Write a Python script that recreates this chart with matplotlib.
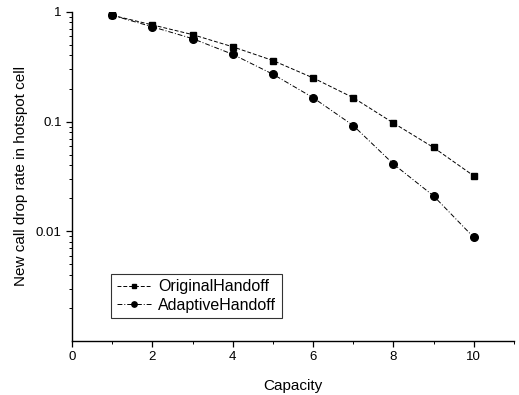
import matplotlib
matplotlib.use("Agg")
import matplotlib.pyplot as plt
from matplotlib.ticker import LogLocator, FixedLocator, NullFormatter

plt.rcParams["font.family"] = ["Liberation Sans", "DejaVu Sans"]

capacity = [1, 2, 3, 4, 5, 6, 7, 8, 9, 10]
original_handoff = [0.93, 0.76, 0.62, 0.48, 0.36, 0.25, 0.165, 0.097, 0.058, 0.032]
adaptive_handoff = [0.93, 0.73, 0.57, 0.41, 0.27, 0.165, 0.092, 0.041, 0.021, 0.0088]

fig = plt.figure(figsize=(5.19, 3.95), dpi=100)
ax = fig.add_axes([0.139, 0.137, 0.851, 0.833])

ax.plot(capacity, original_handoff, color="black", linestyle=(0, (4, 2)),
        linewidth=0.7, marker="s", markersize=5, label="OriginalHandoff")
ax.plot(capacity, adaptive_handoff, color="black", linestyle=(0, (5, 2, 1, 2)),
        linewidth=0.7, marker="o", markersize=5.5, label="AdaptiveHandoff")

ax.set_yscale("log")
ax.set_ylim(0.001, 1)
ax.set_xlim(0, 11)
ax.yaxis.set_major_locator(FixedLocator([0.01, 0.1, 1]))
ax.set_yticklabels(["0.01", "0.1", "1"])
ax.yaxis.set_minor_locator(LogLocator(base=10, subs=range(2, 10)))
ax.yaxis.set_minor_formatter(NullFormatter())
ax.set_xticks([0, 2, 4, 6, 8, 10])
ax.set_xticks([1, 3, 5, 7, 9, 11], minor=True)

ax.spines["top"].set_visible(False)
ax.spines["right"].set_visible(False)
ax.spines["left"].set_linewidth(1.0)
ax.spines["bottom"].set_linewidth(1.0)
ax.tick_params(which="major", length=4, width=0.9, labelsize=9.5)
ax.tick_params(which="minor", length=2.5, width=0.7)

ax.set_xlabel("Capacity", fontsize=11, labelpad=11)
ax.set_ylabel("New call drop rate in hotspot cell", fontsize=11, labelpad=6)

leg = ax.legend(loc="lower left", bbox_to_anchor=(0.07, 0.045), fontsize=11.5,
                frameon=True, fancybox=False, edgecolor="black",
                handlelength=2.2, markerscale=0.7, borderpad=0.35,
                labelspacing=0.2, handletextpad=0.4)
leg.get_frame().set_linewidth(0.8)

plt.savefig("out.png", dpi=100)
plt.close()
